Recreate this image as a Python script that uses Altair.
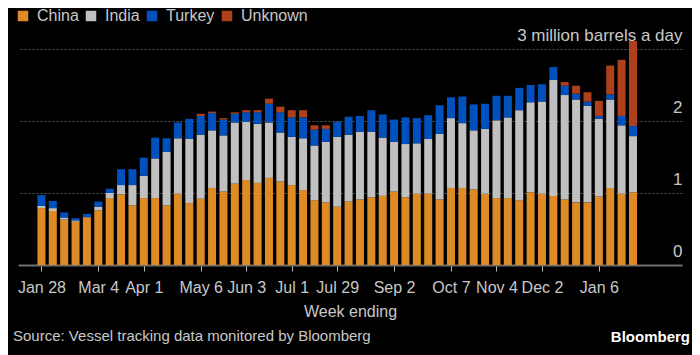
import altair as alt
import pandas as pd

# Week-ending dates (weekly, Jan 28 2022 .. Jan 27 2023)
weeks = pd.date_range("2022-01-28", periods=53, freq="7D").strftime("%Y-%m-%d").tolist()

china = [0.79, 0.75, 0.63, 0.60, 0.66, 0.76, 0.93, 0.98, 0.83, 0.93, 0.93, 0.83, 0.99, 0.86, 0.92, 1.07, 1.02, 1.13, 1.18,
         1.14, 1.21, 1.16, 1.11, 1.04, 0.90, 0.87,
         0.81, 0.88, 0.91, 0.94, 0.96, 1.02, 0.94, 0.99, 0.99,
         0.91, 1.07, 1.07, 1.05, 0.99, 0.93, 0.93, 0.90, 1.01,
         0.99, 0.96, 0.91, 0.87, 0.87, 0.95, 1.07, 0.99, 1.01]
india = [0.03, 0.04, 0.03, 0.02, 0.01, 0.05, 0.07, 0.13, 0.28, 0.31, 0.55, 0.74, 0.77, 0.89, 0.89, 0.80, 0.78, 0.85, 0.81,
         0.82, 0.77, 0.68, 0.67, 0.72, 0.76, 0.84,
         0.97, 0.93, 0.94, 0.91, 0.81, 0.69, 0.74, 0.70, 0.76,
         0.91, 0.97, 0.90, 0.82, 0.90, 1.08, 1.12, 1.25, 1.25,
         1.28, 1.61, 1.45, 1.43, 1.34, 1.08, 1.23, 0.95, 0.78]
turkey = [0.15, 0.10, 0.07, 0.03, 0.04, 0.07, 0.06, 0.22, 0.22, 0.25, 0.29, 0.19, 0.22, 0.28, 0.26, 0.24, 0.22, 0.12, 0.13,
          0.16, 0.26, 0.28, 0.27, 0.29, 0.22, 0.18,
          0.21, 0.25, 0.22, 0.30, 0.32, 0.31, 0.37, 0.35, 0.33,
          0.40, 0.29, 0.37, 0.36, 0.35, 0.34, 0.30, 0.31, 0.24,
          0.24, 0.18, 0.13, 0.08, 0.06, 0.04, 0.07, 0.13, 0.14]
unknown = [0, 0, 0, 0, 0, 0, 0, 0, 0, 0, 0, 0, 0, 0, 0.03, 0.02, 0.02, 0.02, 0.03,
           0.03, 0.07, 0.08, 0.10, 0.10, 0.06, 0.05,
           0, 0, 0, 0, 0, 0, 0, 0, 0,
           0, 0, 0, 0, 0, 0, 0, 0, 0,
           0, 0, 0.05, 0.11, 0.13, 0.21, 0.40, 0.78, 1.18]

series = ["China", "India", "Turkey", "Unknown"]
colors = ["#DE8B26", "#C0C0C0", "#0050BE", "#B0401C"]

tick_idx = [0, 5, 9, 14, 18, 22, 26, 31, 36, 40, 44, 49]
tick_labels = ["Jan 28", "Mar 4", "Apr 1", "May 6", "Jun 3", "Jul 1", "Jul 29",
               "Sep 2", "Oct 7", "Nov 4", "Dec 2", "Jan 6"]

source_text = "Source: Vessel tracking data monitored by Bloomberg"
brand_text = "Bloomberg"

rows = []
for i, w in enumerate(weeks):
    for k, (s, vals) in enumerate(zip(series, [china, india, turkey, unknown])):
        rows.append({"i": i, "week": w, "series": s, "k": k, "value": vals[i]})
df = pd.DataFrame(rows)

label_expr = ("[" + ",".join("'%s'" % t for t in tick_labels) + "][indexof(["
              + ",".join(str(v) for v in tick_idx) + "], datum.value)]")

FONT = "Liberation Sans"
TXT = "#c8c8c8"

bars = alt.Chart(df).mark_bar(size=8).encode(
    x=alt.X("i:Q",
            scale=alt.Scale(domain=[-1.62, 55.87], nice=False, zero=False),
            axis=alt.Axis(values=tick_idx, labelExpr=label_expr, title="Week ending",
                          grid=False, domainColor="#707070", domainWidth=2,
                          tickColor="#bbbbbb", tickSize=6, tickWidth=1,
                          labelFontSize=16, labelColor=TXT, labelPadding=8,
                          labelFont=FONT, titleFont=FONT,
                          titleFontSize=16, titleColor=TXT, titleFontWeight="normal",
                          titlePadding=8)),
    y=alt.Y("value:Q", stack="zero",
            scale=alt.Scale(domain=[0, 3], nice=False),
            axis=alt.Axis(orient="right", values=[0, 1, 2, 3], title=None,
                          labelExpr="datum.value == 3 ? '3 million barrels a day' : datum.label",
                          domain=False, ticks=False, labelAlign="right", labelPadding=0,
                          labelBaseline="alphabetic", labelOffset=-9,
                          labelFontSize=17, labelColor=TXT, labelFont=FONT,
                          grid=True, gridColor="#5c5c5c", gridDash=[2, 2], gridWidth=1)),
    color=alt.Color("series:N",
                    scale=alt.Scale(domain=series, range=colors),
                    legend=alt.Legend(title=None, orient="none", direction="horizontal",
                                      legendX=-3, legendY=-41,
                                      symbolType="square", symbolSize=110, symbolStrokeWidth=0,
                                      labelFontSize=16, labelColor=TXT, labelFont=FONT,
                                      labelOffset=6, columnPadding=4)),
    order=alt.Order("k:Q", sort="ascending"),
)

src = alt.Chart(pd.DataFrame({"t": [source_text]})).mark_text(
    align="left", baseline="middle", fontSize=15, color=TXT, font=FONT
).encode(text="t:N", x=alt.value(-5), y=alt.value(287))

brand = alt.Chart(pd.DataFrame({"t": [brand_text]})).mark_text(
    align="right", baseline="middle", fontSize=15, fontWeight="bold", color="#ffffff", font=FONT
).encode(text="t:N", x=alt.value(672), y=alt.value(288))

chart = alt.layer(bars, src, brand).properties(
    width=664, height=216,
    background="#000000",
    padding={"left": 10, "top": 41, "right": 10, "bottom": 92},
    autosize=alt.AutoSizeParams(type="none"),
).configure(font=FONT, view=alt.ViewConfig(stroke=None))

chart.save("out.html", embed_options={"renderer": "svg", "actions": False})
